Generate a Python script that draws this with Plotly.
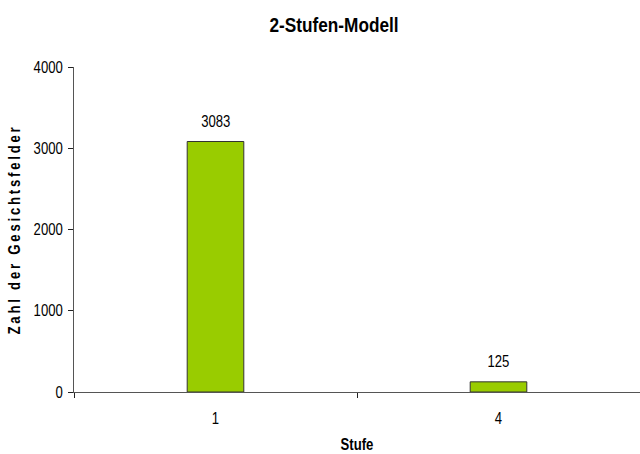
import plotly.graph_objects as go

# Data
stufen = ["1", "4"]
felder = [3083, 125]
y_ticks = [0, 1000, 2000, 3000, 4000]

font_family = "Liberation Sans, Arial, sans-serif"

fig = go.Figure(
    go.Bar(
        x=stufen,
        y=felder,
        width=0.2,
        marker=dict(color="#99CC00", line=dict(color="#333333", width=1)),
        hoverinfo="skip",
    )
)

# value labels above the bars (category axis positions are indices)
for i, v in enumerate(felder):
    fig.add_annotation(
        x=i, y=v, text=str(v), showarrow=False,
        yanchor="bottom", yshift=10,
        font=dict(family=font_family, size=16, color="black"),
    )

fig.update_layout(
    width=640,
    height=454,
    margin=dict(l=74, r=0, t=67, b=62),
    paper_bgcolor="white",
    plot_bgcolor="white",
    showlegend=False,
    font=dict(family=font_family, size=16, color="black"),
    title=dict(
        text="<b>2-Stufen-Modell</b>",
        x=0.522,
        xanchor="center",
        y=0.945,
        yanchor="middle",
        font=dict(family=font_family, size=21, color="black"),
    ),
)

fig.update_xaxes(
    type="category",
    range=[-0.5, 1.5],
    showline=True,
    linecolor="#555555",
    linewidth=1,
    ticks="outside",
    tickson="boundaries",
    ticklen=5,
    tickcolor="#222222",
    ticklabelstandoff=12,
    tickfont=dict(size=16),
    showgrid=False,
    zeroline=False,
    title=dict(text="<b>Stufe</b>", font=dict(size=16), standoff=12),
)

fig.update_yaxes(
    range=[0, 4000],
    tickvals=y_ticks,
    showline=True,
    linecolor="#555555",
    linewidth=1,
    ticks="outside",
    ticklen=5,
    tickcolor="#222222",
    ticklabelstandoff=2,
    tickfont=dict(size=16),
    showgrid=False,
    zeroline=False,
    title=dict(text="<b>Zahl der Gesichtsfelder</b>", font=dict(size=16), standoff=2),
)

# Narrow lettering: compress every SVG text horizontally about its anchor,
# and open up the spacing of the vertical axis title.
post_js = """
var gd = document.getElementsByClassName('plotly-graph-div')[0];
function condense(){
  var texts = gd.querySelectorAll('svg.main-svg text');
  texts.forEach(function(t){
    if (t.getAttribute('data-cx')) return;
    var x = parseFloat(t.getAttribute('x')) || 0;
    var y = parseFloat(t.getAttribute('y')) || 0;
    var tr = t.getAttribute('transform') || '';
    t.setAttribute('transform', tr + ' translate(' + x + ',' + y + ') scale(0.82,1) translate(' + (-x) + ',' + (-y) + ')');
    t.setAttribute('data-cx', '1');
  });
  var yt = gd.querySelector('.ytitle');
  if (yt) { yt.style.letterSpacing = '3.4px'; }
}
condense();
gd.on('plotly_afterplot', condense);
"""

fig.write_html("out.html", post_script=post_js, config={"displayModeBar": False})
